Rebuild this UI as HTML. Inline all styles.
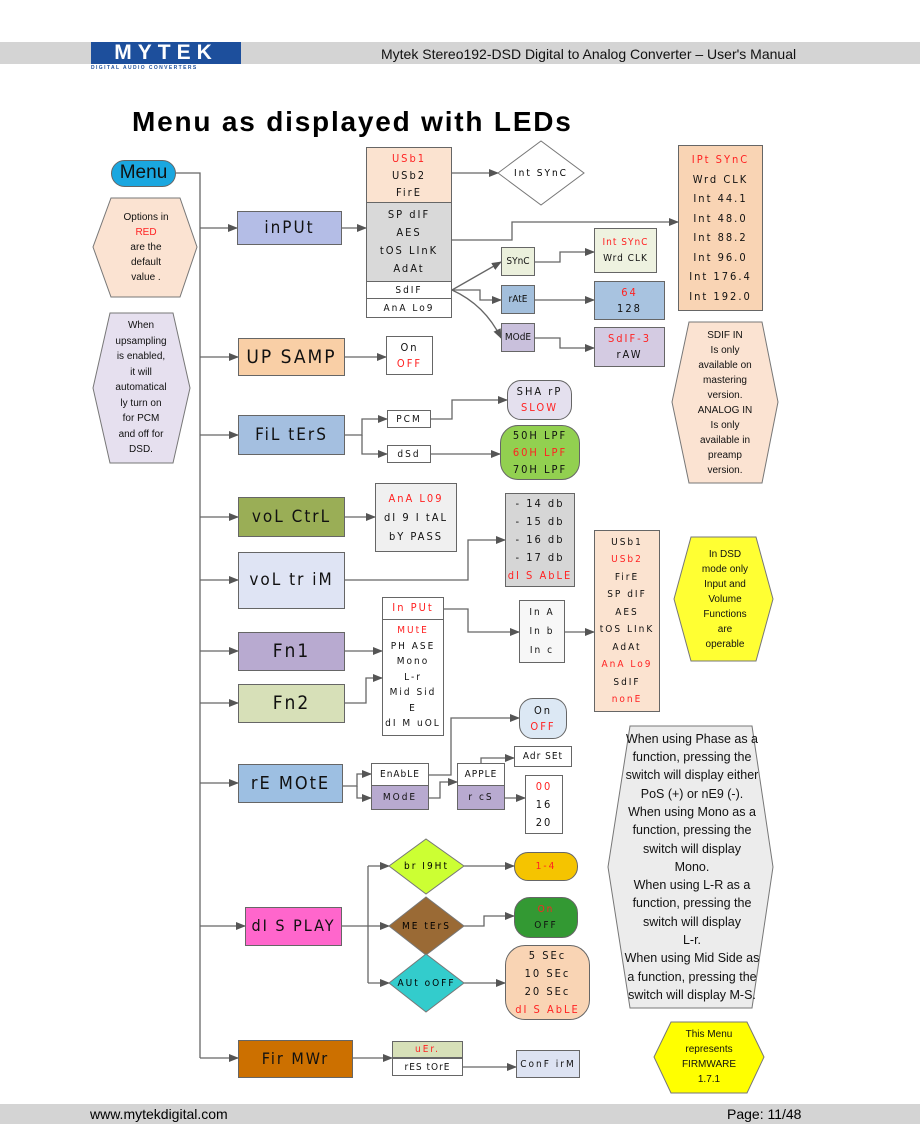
<!DOCTYPE html>
<html><head><meta charset="utf-8">
<style>
*{margin:0;padding:0;box-sizing:border-box}
body{width:920px;height:1124px;position:relative;background:#fff;font-family:"Liberation Sans",sans-serif;overflow:hidden}
.a{position:absolute}
.b{position:absolute;border:1px solid #666;display:flex;flex-direction:column;align-items:center;justify-content:center;font-family:"DejaVu Sans Condensed","DejaVu Sans",sans-serif;color:#111;letter-spacing:1.5px;line-height:1.3;transform-origin:center}
.led{font-family:"DejaVu Sans Condensed","DejaVu Sans",sans-serif;letter-spacing:2px}
.r{color:#f22}
.t{position:absolute;display:flex;flex-direction:column;align-items:center;justify-content:center;text-align:center}
.hx{font-family:"Liberation Sans",sans-serif;font-size:10px;line-height:15px;color:#111}
</style></head><body>
<!-- header -->
<div class="a" style="left:0;top:42px;width:920px;height:22px;background:#d4d4d4"></div>
<div class="a" style="left:91px;top:42px;width:150px;height:22px;background:#1d4f9c;color:#fff;font-weight:bold;font-size:21px;letter-spacing:6px;line-height:22px;text-align:center;font-family:'Liberation Sans',sans-serif">MYTEK</div>
<div class="a" style="left:91px;top:65px;width:150px;font-size:5px;font-weight:bold;color:#1d4f9c;letter-spacing:1.4px">DIGITAL AUDIO CONVERTERS</div>
<div class="a" style="left:381px;top:46px;font-size:14px;color:#111">Mytek Stereo192-DSD Digital to Analog Converter – User's Manual</div>
<div class="a" style="left:132px;top:106px;font-size:28px;font-weight:bold;letter-spacing:1.8px;color:#000">Menu as displayed with LEDs</div>
<!-- footer -->
<div class="a" style="left:0;top:1104px;width:920px;height:20px;background:#d4d4d4"></div>
<div class="a" style="left:90px;top:1106px;font-size:14px">www.mytekdigital.com</div>
<div class="a" style="left:727px;top:1106px;font-size:14px">Page: 11/48</div>

<svg class="a" style="left:0;top:0" width="920" height="1124">
<defs><marker id="ar" markerWidth="10" markerHeight="8" refX="9" refY="4" orient="auto" markerUnits="userSpaceOnUse"><path d="M0,0 L10,4 L0,8z" fill="#555"/></marker></defs>
<g fill="none" stroke="#666" stroke-width="1.3">
<path d="M176,173 H200 V1058"/>
<path d="M200,228 H237" marker-end="url(#ar)"/>
<path d="M200,357 H238" marker-end="url(#ar)"/>
<path d="M200,435 H238" marker-end="url(#ar)"/>
<path d="M200,517 H238" marker-end="url(#ar)"/>
<path d="M200,580 H238" marker-end="url(#ar)"/>
<path d="M200,651 H238" marker-end="url(#ar)"/>
<path d="M200,703 H238" marker-end="url(#ar)"/>
<path d="M200,783 H238" marker-end="url(#ar)"/>
<path d="M200,926 H245" marker-end="url(#ar)"/>
<path d="M200,1058 H238" marker-end="url(#ar)"/>
<path d="M342,228 H366" marker-end="url(#ar)"/>
<path d="M452,173 H498" marker-end="url(#ar)"/>
<path d="M452,240 H512 V222 H678" marker-end="url(#ar)"/>
<path d="M452,290 L501,262" marker-end="url(#ar)"/>
<path d="M452,290 H480 V300 H501" marker-end="url(#ar)"/>
<path d="M452,290 Q485,305 501,338" marker-end="url(#ar)"/>
<path d="M535,262 H560 V252 H594" marker-end="url(#ar)"/>
<path d="M535,300 H594" marker-end="url(#ar)"/>
<path d="M535,338 H560 V348 H594" marker-end="url(#ar)"/>
<path d="M345,357 H386" marker-end="url(#ar)"/>
<path d="M345,435 H362 V419 H387" marker-end="url(#ar)"/>
<path d="M362,435 V454 H387" marker-end="url(#ar)"/>
<path d="M431,419 H452 V400 H507" marker-end="url(#ar)"/>
<path d="M431,454 H500" marker-end="url(#ar)"/>
<path d="M345,517 H375" marker-end="url(#ar)"/>
<path d="M345,580 H468 V540 H505" marker-end="url(#ar)"/>
<path d="M345,651 H382" marker-end="url(#ar)"/>
<path d="M345,703 H366 V678 H382" marker-end="url(#ar)"/>
<path d="M444,609 H468 V632 H519" marker-end="url(#ar)"/>
<path d="M565,632 H594" marker-end="url(#ar)"/>
<path d="M343,786 H357 V774 H371" marker-end="url(#ar)"/>
<path d="M357,786 V798 H371" marker-end="url(#ar)"/>
<path d="M429,775 H451 V718 H519" marker-end="url(#ar)"/>
<path d="M429,798 H440 V782 H457" marker-end="url(#ar)"/>
<path d="M481,763 V758 H514" marker-end="url(#ar)"/>
<path d="M505,798 H525" marker-end="url(#ar)"/>
<path d="M342,926 H368 M368,866 V983"/>
<path d="M368,866 H389" marker-end="url(#ar)"/>
<path d="M368,926 H389" marker-end="url(#ar)"/>
<path d="M368,983 H389" marker-end="url(#ar)"/>
<path d="M464,866 H514" marker-end="url(#ar)"/>
<path d="M464,926 H484 V916 H514" marker-end="url(#ar)"/>
<path d="M464,983 H505" marker-end="url(#ar)"/>
<path d="M353,1058 H392" marker-end="url(#ar)"/>
<path d="M463,1067 H516" marker-end="url(#ar)"/>
</g>
<g stroke="#777" stroke-width="1">
<polygon points="111,198 180,198 197,247 180,297 111,297 93,247" fill="#fbe3d2"/>
<polygon points="110,313 173,313 190,388 173,463 110,463 93,388" fill="#e6e0ef"/>
<polygon points="689,322 762,322 778,402 762,483 689,483 672,402" fill="#fbe3d2"/>
<polygon points="691,537 756,537 773,599 756,661 691,661 674,599" fill="#ffff33"/>
<polygon points="630,726 752,726 773,867 752,1008 630,1008 608,867" fill="#ececec"/>
<polygon points="671,1022 747,1022 764,1057 747,1093 671,1093 654,1057" fill="#ffff00"/>
<polygon points="498,173 541,141 584,173 541,205" fill="#fff"/>
<polygon points="389,866 426,839 464,866 426,894" fill="#ccff33"/>
<polygon points="389,926 426,897 464,926 426,955" fill="#9a6a35"/>
<polygon points="389,983 426,954 464,983 426,1012" fill="#33cccc"/>
</g>
</svg>

<!-- menu -->
<div class="b" style="left:111px;top:160px;width:65px;height:27px;border-radius:14px;background:#1aa7e0;font-family:'Liberation Sans',sans-serif;font-size:19px;letter-spacing:0">Menu</div>
<div class="t hx" style="left:100px;top:212px;width:92px;height:70px">Options in<br><span class="r">RED</span> are the<br>default<br>value .</div>
<div class="t hx" style="left:100px;top:318px;width:82px;height:140px;line-height:15.5px">When<br>upsampling<br>is enabled,<br>it will<br>automatical<br>ly turn on<br>for PCM<br>and off for<br>DSD.</div>
<div class="t hx" style="left:680px;top:325px;width:90px;height:155px">SDIF IN<br>Is only<br>available on<br>mastering<br>version.<br>ANALOG IN<br>Is only<br>available in<br>preamp<br>version.</div>
<div class="t hx" style="left:685px;top:542px;width:80px;height:115px">In DSD<br>mode only<br>Input and<br>Volume<br>Functions<br>are<br>operable</div>
<div class="t hx" style="left:612px;top:728px;width:160px;height:278px;font-size:12.5px;line-height:18.3px">When using Phase as a<br>function, pressing the<br>switch will display either<br>PoS (+) or nE9 (-).<br>When using Mono as a<br>function, pressing the<br>switch will display<br>Mono.<br>When using L-R as a<br>function, pressing the<br>switch will display<br>L-r.<br>When using Mid Side as<br>a function, pressing the<br>switch will display M-S.</div>
<div class="t hx" style="left:664px;top:1024px;width:90px;height:66px;line-height:15px">This Menu<br>represents<br>FIRMWARE<br>1.7.1</div>

<!-- left column -->
<div class="b led" style="left:237px;top:211px;width:105px;height:34px;background:#b4bde6;font-size:17px">inPUt</div>
<div class="b led" style="left:238px;top:338px;width:107px;height:38px;background:#f9cfa6;font-size:19px">UP SAMP</div>
<div class="b led" style="left:238px;top:415px;width:107px;height:40px;background:#a4bfe0;font-size:17px">FiL tErS</div>
<div class="b led" style="left:238px;top:497px;width:107px;height:40px;background:#9aae56;font-size:17px">voL CtrL</div>
<div class="b led" style="left:238px;top:552px;width:107px;height:57px;background:#dfe4f4;font-size:17px">voL tr iM</div>
<div class="b led" style="left:238px;top:632px;width:107px;height:39px;background:#b8aad0;font-size:19px">Fn1</div>
<div class="b led" style="left:238px;top:684px;width:107px;height:39px;background:#d7e0b8;font-size:19px">Fn2</div>
<div class="b led" style="left:238px;top:764px;width:105px;height:39px;background:#9dbfe2;font-size:18px">rE MOtE</div>
<div class="b led" style="left:245px;top:907px;width:97px;height:39px;background:#ff66cc;font-size:16px">dI S PLAY</div>
<div class="b led" style="left:238px;top:1040px;width:115px;height:38px;background:#cc7000;font-size:16px">Fir MWr</div>

<!-- input list -->
<div class="b led" style="left:366px;top:147px;width:86px;height:56px;background:#fbe3d0;font-size:11px;line-height:17px"><span class="r">USb1</span>USb2<span>FirE</span></div>
<div class="b led" style="left:366px;top:203px;width:86px;height:79px;background:#d9d9d9;font-size:11px;line-height:18px;border-top:none">SP dIF<span>AES</span>tOS LInK<span>AdAt</span></div>
<div class="b led" style="left:366px;top:282px;width:86px;height:17px;background:#fff;font-size:10px;border-top:none">SdIF</div>
<div class="b led" style="left:366px;top:299px;width:86px;height:19px;background:#fff;font-size:10px;border-top:none">AnA Lo9</div>
<div class="t led" style="left:498px;top:141px;width:86px;height:64px;font-size:10px">Int SYnC</div>
<div class="b led" style="left:678px;top:145px;width:85px;height:166px;background:#f9d4b4;font-size:11px;line-height:19.5px"><span class="r">IPt SYnC</span>Wrd CLK<span>Int 44.1</span>Int 48.0<span>Int 88.2</span>Int 96.0<span>Int 176.4</span>Int 192.0</div>
<div class="b led" style="left:501px;top:247px;width:34px;height:29px;background:#ebf0dc;font-size:10px;letter-spacing:0">SYnC</div>
<div class="b led" style="left:501px;top:285px;width:34px;height:29px;background:#a3bfdc;font-size:10px;letter-spacing:0">rAtE</div>
<div class="b led" style="left:501px;top:323px;width:34px;height:29px;background:#c9c0dc;font-size:10px;letter-spacing:0">MOdE</div>
<div class="b led" style="left:594px;top:228px;width:63px;height:45px;background:#eef2e0;font-size:10px;letter-spacing:1px;line-height:16px"><span class="r">Int SYnC</span>Wrd CLK</div>
<div class="b led" style="left:594px;top:281px;width:71px;height:39px;background:#a8c3e0;font-size:11px;line-height:16px"><span class="r">64</span>128</div>
<div class="b led" style="left:594px;top:327px;width:71px;height:40px;background:#d4cbe2;font-size:11px;line-height:16px"><span class="r">SdIF-3</span>rAW</div>
<div class="b led" style="left:386px;top:336px;width:47px;height:39px;background:#fff;font-size:11px;line-height:16px">On<span class="r">OFF</span></div>
<div class="b led" style="left:387px;top:410px;width:44px;height:18px;background:#fff;font-size:10px">PCM</div>
<div class="b led" style="left:387px;top:445px;width:44px;height:18px;background:#fff;font-size:10px">dSd</div>
<div class="b led" style="left:507px;top:380px;width:65px;height:40px;background:#e4e0ee;border-radius:14px;font-size:11px;line-height:16px">SHA rP<span class="r">SLOW</span></div>
<div class="b led" style="left:500px;top:425px;width:80px;height:55px;background:#92d050;border-radius:18px;font-size:11px;line-height:17px">50H LPF<span class="r">60H LPF</span>70H LPF</div>
<div class="b led" style="left:375px;top:483px;width:82px;height:69px;background:#f0f0f0;font-size:11px;line-height:19px"><span class="r">AnA L09</span>dI 9 I tAL<span>bY PASS</span></div>
<div class="b led" style="left:505px;top:493px;width:70px;height:94px;background:#d6d6d6;font-size:11px;line-height:18px">- 14 db<span>- 15 db</span>- 16 db<span>- 17 db</span><span class="r">dI S AbLE</span></div>
<div class="b led" style="left:382px;top:597px;width:62px;height:23px;background:#fff;font-size:11px"><span class="r">In PUt</span></div>
<div class="b led" style="left:382px;top:620px;width:62px;height:116px;background:#fff;font-size:10px;line-height:15.5px;border-top:none"><span class="r">MUtE</span>PH ASE<span>Mono</span>L-r<span>Mid Sid</span>E<span>dI M uOL</span></div>
<div class="b led" style="left:519px;top:600px;width:46px;height:63px;background:#f7f7f7;font-size:10px;line-height:19px">In A<span>In b</span>In c</div>
<div class="b led" style="left:594px;top:530px;width:66px;height:182px;background:#fbe3d0;font-size:10px;line-height:17.5px">USb1<span class="r">USb2</span>FirE<span>SP dIF</span>AES<span>tOS LInK</span>AdAt<span class="r">AnA Lo9</span>SdIF<span class="r">nonE</span></div>
<div class="b led" style="left:519px;top:698px;width:48px;height:41px;background:#dce8f4;border-radius:14px;font-size:11px;line-height:16px">On<span class="r">OFF</span></div>
<div class="b led" style="left:371px;top:763px;width:58px;height:23px;background:#fff;font-size:10px;letter-spacing:1px">EnAbLE</div>
<div class="b led" style="left:371px;top:786px;width:58px;height:24px;background:#b8aad0;font-size:10px;border-top:none">MOdE</div>
<div class="b led" style="left:457px;top:763px;width:48px;height:23px;background:#fff;font-size:10px;letter-spacing:1px">APPLE</div>
<div class="b led" style="left:457px;top:786px;width:48px;height:24px;background:#b8aad0;font-size:10px;border-top:none">r cS</div>
<div class="b led" style="left:514px;top:746px;width:58px;height:21px;background:#fff;font-size:10px;letter-spacing:1px">Adr SEt</div>
<div class="b led" style="left:525px;top:775px;width:38px;height:59px;background:#fff;font-size:11px;line-height:18px"><span class="r">00</span>16<span>20</span></div>
<div class="t led" style="left:389px;top:839px;width:75px;height:55px;font-size:10px">br I9Ht</div>
<div class="t led" style="left:389px;top:897px;width:75px;height:58px;font-size:10px">ME tErS</div>
<div class="t led" style="left:389px;top:954px;width:75px;height:58px;font-size:10px">AUt oOFF</div>
<div class="b led" style="left:514px;top:852px;width:64px;height:29px;background:#f5c400;border-radius:14px;font-size:10px"><span class="r">1-4</span></div>
<div class="b led" style="left:514px;top:897px;width:64px;height:41px;background:#339933;border-radius:16px;font-size:10px;line-height:16px"><span class="r">On</span>OFF</div>
<div class="b led" style="left:505px;top:945px;width:85px;height:75px;background:#f9d4b4;border-radius:20px;font-size:11px;line-height:18px">5 SEc<span>10 SEc</span>20 SEc<span class="r">dI S AbLE</span></div>
<div class="b led" style="left:392px;top:1041px;width:71px;height:17px;background:#d7e0b8;font-size:10px"><span class="r">uEr.</span></div>
<div class="b led" style="left:392px;top:1058px;width:71px;height:18px;background:#fff;font-size:10px;letter-spacing:1px">rES tOrE</div>
<div class="b led" style="left:516px;top:1050px;width:64px;height:28px;background:#dde3f2;font-size:10px">ConF irM</div>
</body></html>
